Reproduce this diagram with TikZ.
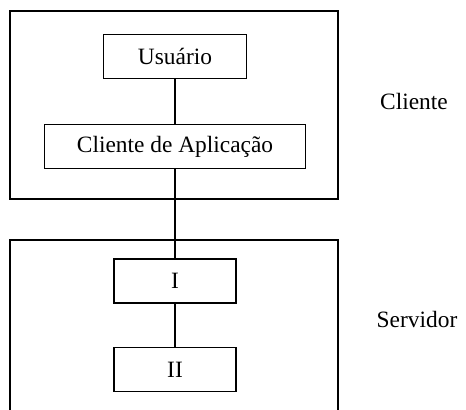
\documentclass[tikz,border=0pt]{standalone}
\usepackage{fontspec}
\setmainfont{Liberation Serif}
\usetikzlibrary{positioning}

\begin{document}
\begin{tikzpicture}[x=0.5pt,y=-0.5pt,node distance=45pt,on grid,line width=0.7pt,node font=\fontsize{11.7}{14}\selectfont]
	\tikzstyle{bloco}=[draw,rectangle,minimum height=22pt,inner sep=0pt]
	
	\useasboundingbox (0,0) rectangle (466,410);
	
	% cliente
	\draw (10,11) rectangle (338,199);
	\node[bloco,minimum width=71.5pt]  (usuario) at (175,56.5)        {Usuário};
	\node[bloco,minimum width=130.5pt] (aplic)   [below=of usuario]    {Cliente de Aplicação};
	\node                              (cliente) at (414,102)         {Cliente};
	
	% servidor
	\draw (10,410) |- (338,240) -- (338,410);
	\node[bloco,minimum width=61pt]    (srvI)    [below=67.25pt of aplic] {I};
	\node[bloco,minimum width=61pt]    (srvII)   [below=44.25pt of srvI]  {II};
	\node                              (servidor) at (417,320)        {Servidor};
	
	\path[draw]
	(usuario) -- (aplic)
	(aplic) -- (srvI)
	(srvI) -- (srvII);
\end{tikzpicture}
\end{document}
